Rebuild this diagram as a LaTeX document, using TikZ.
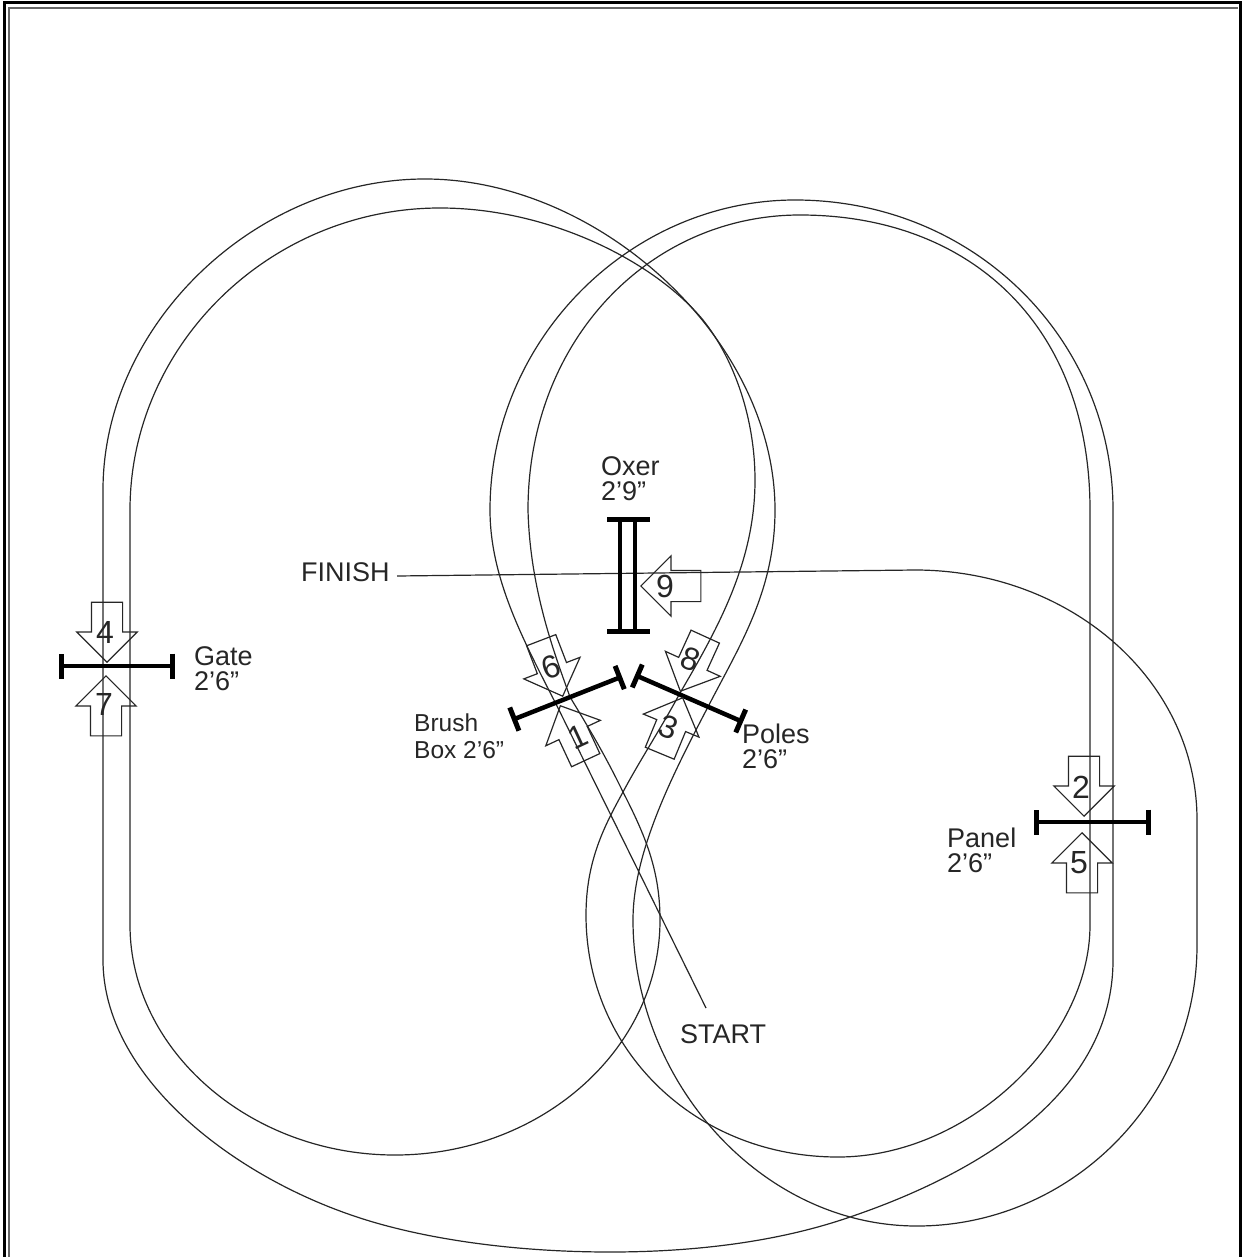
\documentclass[tikz,border=0pt]{standalone}
\usepackage{fontspec}
\setmainfont{Liberation Sans}
\usetikzlibrary{positioning,arrows.meta,shapes.arrows}

\begin{document}
\begin{tikzpicture}[
  x=1pt, y=-1pt,
  track/.style={draw=black!85, line width=1.2pt},
  jump/.style={line width=4.5pt, {Bar[width=25pt,line width=5pt]}-{Bar[width=25pt,line width=5pt]}},
  oxerbar/.style={line width=4.5pt},
  jumparrow/.style={single arrow, draw=black!85, line width=1.2pt, inner xsep=0pt, inner ysep=15pt, anchor=tip,
    minimum height=60pt, single arrow head extend=14.5pt},
  num/.style={font=\fontsize{32}{32}\selectfont, text=black!85, inner sep=0pt},
  lab/.style={font=\fontsize{27}{25}\selectfont, text=black!85, inner sep=0pt, align=left, anchor=west},
  smalllab/.style={lab, font=\fontsize{24.5}{27}\selectfont}
]
  \useasboundingbox (0,0) rectangle (1244,1257);

  % The frame
  \draw[line width=3pt] (4,1257) |- (1240,3) -- (1240,1257);
  \draw[line width=1.2pt, black!60] (9,1257) |- (1238,8);

  % Labels
  \node[lab] (oxer) at (601,479) {Oxer\\2’9”};
  \node[lab] (gate) at (194,669) {Gate\\2’6”};
  \node[smalllab] (brush) at (414,736.5) {Brush\\Box 2’6”};
  \node[lab] (poles) at (742,746) {Poles\\2’6”};
  \node[lab] (panel) at (947,850) {Panel\\2’6”};
  \node[lab] (finish) at (301,572) {FINISH};
  \node[lab] (start) at (680,1034) {START};
  \coordinate (finishend) at (397,576);
  \coordinate (startend) at (706,1008);

  % Outer line of the course
  \draw[track] (startend) -- (558,708)
    .. controls (525,643) and (490,580) .. (490,510)
    .. controls (490,340) and (630,200) .. (795,200)
    .. controls (975,200) and (1113,340) .. (1113,510)
    -- (1113,960)
    .. controls (1113,1100) and (965,1178) .. (850,1217)
    .. controls (775,1243) and (690,1252) .. (610,1252)
    .. controls (510,1252) and (420,1238) .. (357,1217)
    .. controls (230,1175) and (103,1075) .. (103,960)
    -- (103,490)
    .. controls (103,325) and (255,179) .. (425,179)
    .. controls (600,179) and (775,340) .. (775,510)
    .. controls (775,590) and (740,645) .. (710,703)
    .. controls (675,770) and (633,850) .. (633,920)
    .. controls (633,1080) and (760,1226) .. (917,1226)
    .. controls (1070,1226) and (1197,1100) .. (1197,945)
    -- (1197,820)
    .. controls (1197,680) and (1070,570) .. (915,570)
    -- (finishend);

  % Inner line of the course
  \draw[track] (528,510)
    .. controls (528,340) and (650,215) .. (800,215)
    .. controls (970,215) and (1090,325) .. (1090,510)
    -- (1090,925)
    .. controls (1090,1040) and (968,1157) .. (838,1157)
    .. controls (695,1157) and (586,1050) .. (586,915)
    .. controls (586,860) and (605,825) .. (623,792)
    .. controls (640,760) and (660,730) .. (680,693)
    .. controls (720,625) and (755,560) .. (755,480)
    .. controls (755,420) and (735,360) .. (703,320)
    .. controls (655,262) and (550,208) .. (440,208)
    .. controls (270,208) and (130,345) .. (130,510)
    -- (130,925)
    .. controls (130,1050) and (250,1155) .. (395,1155)
    .. controls (540,1155) and (660,1050) .. (660,920)
    .. controls (660,870) and (645,835) .. (623,792)
    .. controls (605,755) and (590,730) .. (570,697)
    .. controls (555,655) and (530,590) .. (528,510);

  % Jumps
  \draw[jump] (59,666) -- (175,666);
  \draw[jump] (1034,822) -- (1151,822);
  \draw[jump] (512,720) -- (622,676.6);
  \draw[jump] (635,675) -- (743,722);
  \draw[oxerbar] (607,519.5) -- (650,519.5);
  \draw[oxerbar] (607,631.5) -- (650,631.5);
  \draw[oxerbar] (620,519.5) -- (620,631.5);
  \draw[oxerbar] (635,519.5) -- (635,631.5);

  % Direction arrows
  \node[jumparrow, rotate=115] (arrow1) at (560,705) {};
  \node[jumparrow, rotate=-90] (arrow2) at (1084,817) {};
  \node[jumparrow, rotate=67.5] (arrow3) at (683,697) {};
  \node[jumparrow, rotate=-90] (arrow4) at (107,663) {};
  \node[jumparrow, rotate=90] (arrow5) at (1082,832) {};
  \node[jumparrow, rotate=-69] (arrow6) at (563,697) {};
  \node[jumparrow, rotate=90] (arrow7) at (106,675) {};
  \node[jumparrow, rotate=-114.5] (arrow8) at (680,692) {};
  \node[jumparrow, rotate=180] (arrow9) at (640,586) {};

  % Numbers
  \node[num, rotate=25] (num1) at (578,737) {1};
  \node[num] (num2) at (1081,787) {2};
  \node[num, rotate=-20] (num3) at (669,727) {3};
  \node[num] (num4) at (105,632) {4};
  \node[num] (num5) at (1079,863) {5};
  \node[num, rotate=20] (num6) at (551,667) {6};
  \node[num] (num7) at (104,704) {7};
  \node[num, rotate=-20] (num8) at (691,659) {8};
  \node[num] (num9) at (665,586) {9};
\end{tikzpicture}
\end{document}
